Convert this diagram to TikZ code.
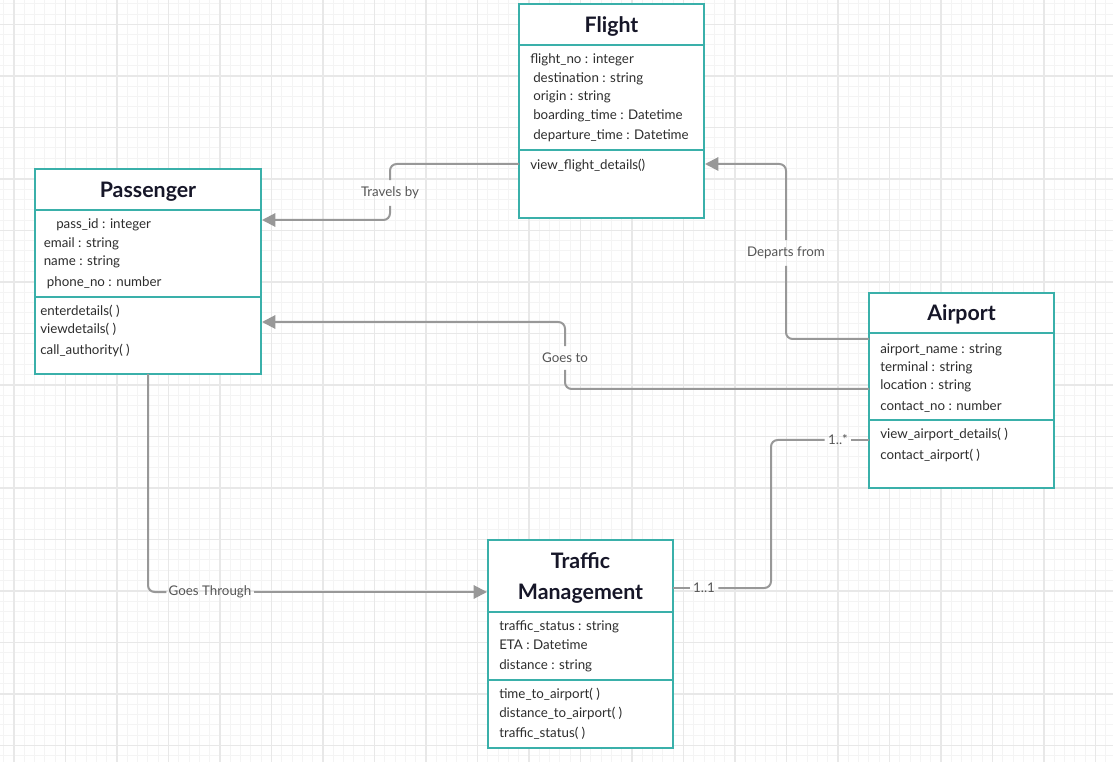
\documentclass[tikz,border=0pt]{standalone}
\usepackage{fontspec}
\setmainfont{Lato}
\usepackage{xcolor}
\definecolor{ClassTeal} {RGB}{58, 176, 170}
\definecolor{TitleInk}  {RGB}{22,  22,  40}
\definecolor{MemberInk} {RGB}{45,  45,  45}
\definecolor{LinkGray}  {RGB}{152, 152, 152}
\definecolor{NoteGray}  {RGB}{85,  85,  85}
\definecolor{GridMinor} {RGB}{244, 244, 244}
\definecolor{GridMajor} {RGB}{232, 232, 232}
\usetikzlibrary{
  arrows.meta,
  positioning
}

\begin{document}
\begin{tikzpicture}[
  x=0.75pt, y=-0.75pt,
  boxsize/.style 2 args={
    minimum width=#1*0.75pt,
    minimum height=#2*0.75pt},
  head/.style={
    draw=ClassTeal, fill=white,
    line width=1.5pt, outer sep=0pt,
    inner sep=0pt, align=center,
    text depth=0pt,
    font=\fontsize{16}{23}\selectfont\bfseries,
    text=TitleInk},
  part/.style={
    draw=ClassTeal, fill=white,
    line width=1.5pt, outer sep=0pt,
    inner sep=0pt},
  member/.style={
    anchor=base west, inner sep=0pt,
    font=\fontsize{10}{12}\selectfont,
    text=MemberInk},
  link/.style={
    draw=LinkGray, line width=1.5pt,
    rounded corners=5pt},
  arrow/.style={
    link,
    -{Triangle[length=10pt, width=10pt]},
    shorten >=0.75pt},
  note/.style={
    font=\fontsize{10}{12}\selectfont,
    text=NoteGray,
    inner xsep=2.5pt, inner ysep=5pt},
  minor/.style={draw=GridMinor, line width=0.7pt},
  major/.style={draw=GridMajor, line width=1.1pt}
]

\useasboundingbox (0,0) rectangle (1113,762);
\fill[white] (0,0) rectangle (1113,762);

% grid paper
\foreach \k in {-1,...,106}
  \draw[minor] ({14+10.3*\k},0) -- ({14+10.3*\k},762);
\foreach \k in {-2,...,71}
  \draw[minor] (0,{24.3+10.3*\k}) -- (1113,{24.3+10.3*\k});
\foreach \k in {0,...,21}
  \draw[major] ({14+51.5*\k},0) -- ({14+51.5*\k},762);
\foreach \k in {0,...,14}
  \draw[major] (0,{24.3+51.5*\k}) -- (1113,{24.3+51.5*\k});

% Flight
\node[head, boxsize={185}{41}, anchor=north west]
  (flight) at (519,4) {Flight};
\node[part, boxsize={185}{105}, below=0pt of flight]
  (flight-attr) {};
\node[part, boxsize={185}{68}, below=0pt of flight-attr]
  (flight-ops) {};
\foreach \x/\y/\t [count=\k] in {
    530/64/flight\_no : integer,
    533/82.7/destination : string,
    533/101/origin : string,
    533/119.5/boarding\_time : Datetime,
    533/140/departure\_time : Datetime}
  \node[member] (flight-a\k) at (\x,\y) {\t};
\node[member] (flight-o1) at (530,170) {view\_flight\_details()};

% Passenger
\node[head, boxsize={226}{41}, anchor=north west]
  (passenger) at (35,169) {Passenger};
\node[part, boxsize={226}{87}, below=0pt of passenger]
  (passenger-attr) {};
\node[part, boxsize={226}{77}, below=0pt of passenger-attr]
  (passenger-ops) {};
\foreach \x/\y/\t [count=\k] in {
    56/229/pass\_id : integer,
    43.5/247.7/email : string,
    43.5/266/name : string,
    46.7/286.7/phone\_no : number}
  \node[member] (passenger-a\k) at (\x,\y) {\t};
\foreach \y/\t [count=\k] in {
    315.7/enterdetails( ),
    334/viewdetails( ),
    354.3/call\_authority( )}
  \node[member] (passenger-o\k) at (40,\y) {\t};

% Airport
\node[head, boxsize={185}{40}, anchor=north west]
  (airport) at (869,293) {Airport};
\node[part, boxsize={185}{87}, below=0pt of airport]
  (airport-attr) {};
\node[part, boxsize={185}{68}, below=0pt of airport-attr]
  (airport-ops) {};
\foreach \y/\t [count=\k] in {
    353.3/airport\_name : string,
    371.7/terminal : string,
    390/location : string,
    410.7/contact\_no : number}
  \node[member] (airport-a\k) at (880,\y) {\t};
\foreach \y/\t [count=\k] in {
    439/view\_airport\_details( ),
    459.3/contact\_airport( )}
  \node[member] (airport-o\k) at (880,\y) {\t};

% Traffic Management
\node[head, boxsize={185}{72}, anchor=north west]
  (traffic) at (488,540) {Traffic\\Management};
\node[part, boxsize={185}{68}, below=0pt of traffic]
  (traffic-attr) {};
\node[part, boxsize={185}{68}, below=0pt of traffic-attr]
  (traffic-ops) {};
\foreach \y/\t [count=\k] in {
    630.7/traffic\_status : string,
    649.3/ETA : Datetime,
    669.3/distance : string}
  \node[member] (traffic-a\k) at (499,\y) {\t};
\foreach \y/\t [count=\k] in {
    698.3/time\_to\_airport( ),
    717.7/distance\_to\_airport( ),
    737.7/traffic\_status( )}
  \node[member] (traffic-o\k) at (499,\y) {\t};

% connector labels
\node[note] (travels) at (390,193) {Travels by};
\node[note] (departs) at (786,253) {Departs from};
\node[note] (goesto) at (565,358) {Goes to};
\node[note, inner xsep=1.5pt] (through) at (210,592) {Goes Through};
\node[note] (one) at (704,588) {1..1};
\node[note] (many) at (838,440) {1..*};
\coordinate (bend) at (771,510);

% associations
\draw[link] (flight-ops.west |- 0,164) -| (travels.north);
\draw[arrow] (travels.south) |- (passenger-attr.east |- 0,220);
\draw[link] (airport-attr.west |- 0,339) -| (departs.south);
\draw[arrow] (departs.north) |- (flight-ops.east |- 0,164);
\draw[link] (airport-attr.west |- 0,389) -| (goesto.south);
\draw[arrow] (goesto.north) |- (passenger-ops.east |- 0,322);
\draw[link] (passenger-ops.south) |- (through.west);
\draw[arrow] (through.east) -- (traffic.west |- through);
\draw[link] (traffic.east |- one) -- (one.west);
\draw[link] (one.east) -| (bend) |- (many.west);
\draw[link] (many.east) -- (airport-ops.west |- many);
\end{tikzpicture}
\end{document}
